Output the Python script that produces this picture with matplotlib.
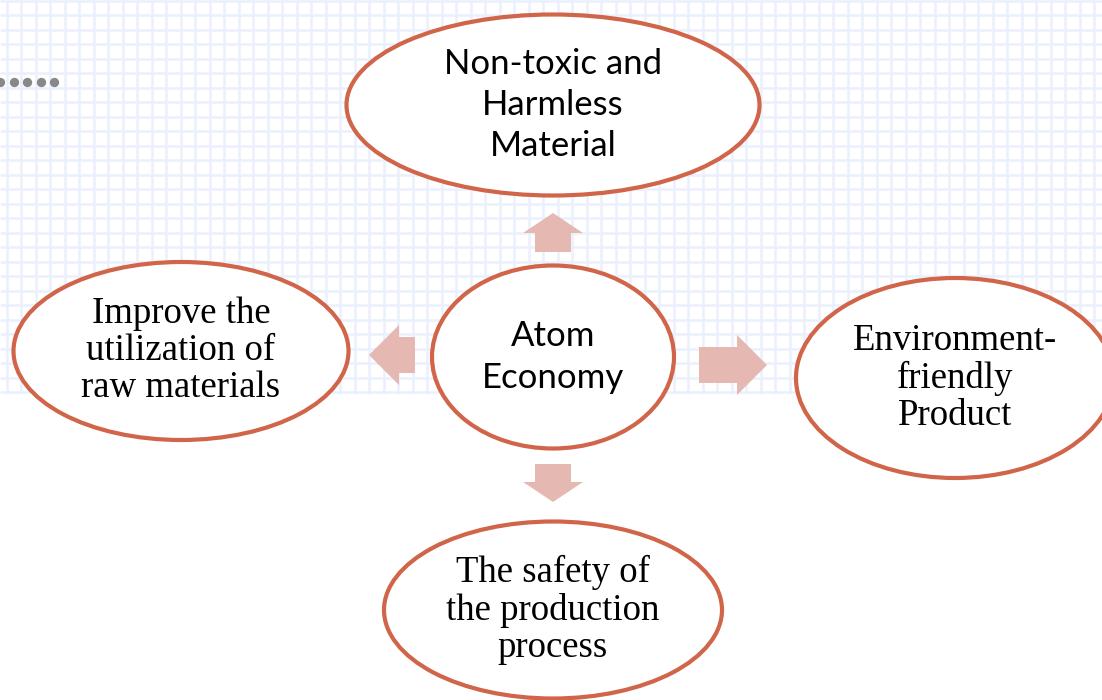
import numpy as np
import matplotlib.pyplot as plt
import matplotlib.patches as mpatches

# node labels and layout (pixel space, y downwards)
labels = ['Atom\nEconomy',
          'Non-toxic and\nHarmless\nMaterial',
          'Improve the\nutilization of\nraw materials',
          'Environment-\nfriendly\nProduct',
          'The safety of\nthe production\nprocess']
centers = [(553, 357), (553, 105), (181, 351), (955, 378), (553, 610)]
sizes = [(242, 183), (413, 181), (335, 178), (318, 200), (338, 177)]
fonts = ['Lato', 'Lato', 'Liberation Serif', 'Liberation Serif', 'Liberation Serif']

# block arrows: start x, start y, dx, dy
arrows = [(553, 252, 0, -39), (415, 355, -46, 0), (699, 365, 68, 0), (553, 464, 0, 38)]

edge_col = '#d0654a'
arrow_col = '#e5b8b1'
grid_col = '#ebf0fd'

fig = plt.figure(figsize=(11.02, 7.0), dpi=100)
ax = fig.add_axes([0, 0, 1, 1])
ax.set_xlim(0, 1102)
ax.set_ylim(700, 0)
ax.axis('off')

# graph paper background
step = 14.5
gx = np.arange(6.7, 1102, step)
gy = np.arange(0.5, 394, step)
ax.vlines(gx, 0, 394, color=grid_col, lw=1.8, zorder=0)
ax.hlines(gy, 0, 1102, color=grid_col, lw=1.8, zorder=0)

# dotted leader at top left
dots_x = [0, 13.5, 27, 40.5, 54]
ax.scatter(dots_x, [81.5] * len(dots_x), s=45, color='#888888', zorder=2, linewidths=0)

for (x, y, dx, dy) in arrows:
    ax.add_patch(mpatches.FancyArrow(x, y, dx, dy, width=36, head_width=60,
                                     head_length=20 if dy != 0 else 30,
                                     length_includes_head=True,
                                     color=arrow_col, lw=0, zorder=2))

for lab, (cx, cy), (w, h), fam in zip(labels, centers, sizes, fonts):
    ax.add_patch(mpatches.Ellipse((cx, cy), w, h, facecolor='white',
                                  edgecolor=edge_col, lw=3.0, zorder=3))
    if fam == 'Lato':
        ax.text(cx, cy, lab, ha='center', va='center', fontsize=25,
                family=fam, linespacing=1.35, zorder=4)
    else:
        ax.text(cx, cy, lab, ha='center', va='center', fontsize=26.5,
                family=fam, linespacing=1.1, zorder=4)

fig.savefig('out.png', dpi=100)
